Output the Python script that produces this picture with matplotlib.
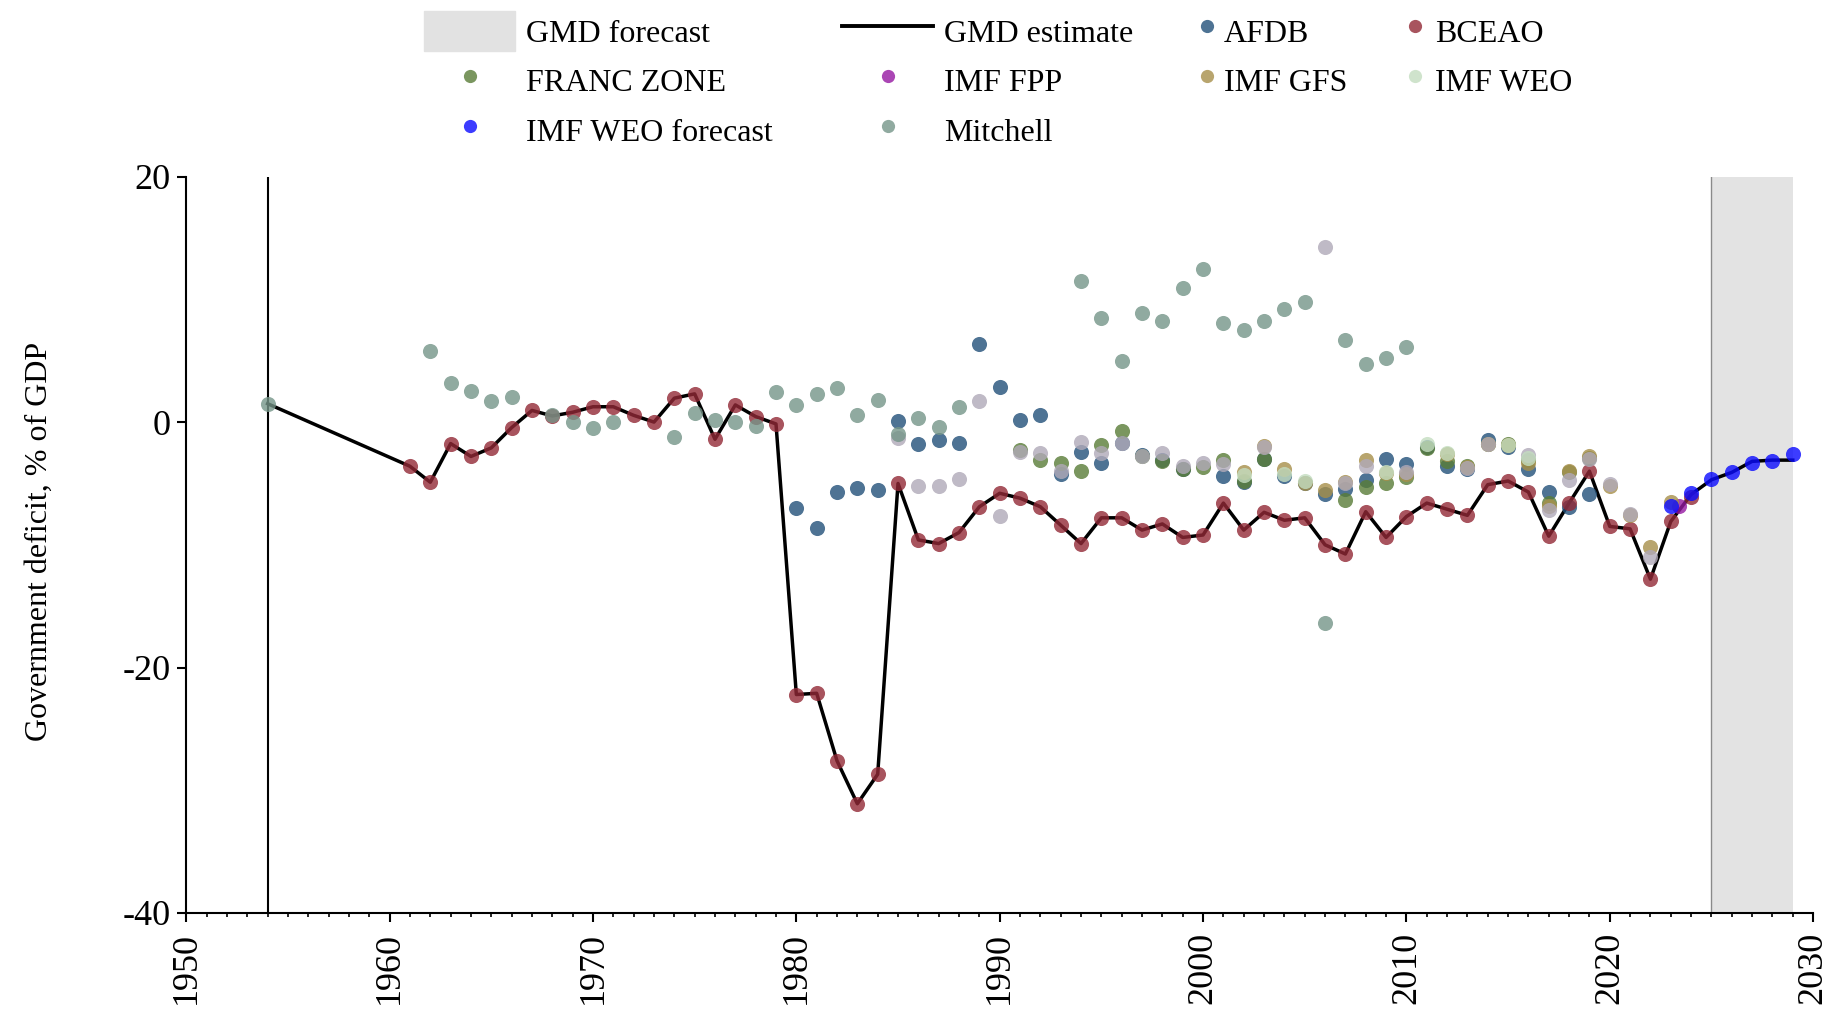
import matplotlib
matplotlib.use("Agg")
import matplotlib.pyplot as plt
from matplotlib.lines import Line2D
from matplotlib.patches import Patch
from matplotlib.ticker import MultipleLocator

plt.rcParams['font.family'] = ['Liberation Serif', 'DejaVu Serif']
plt.rcParams['axes.unicode_minus'] = False

# Government deficit, % of GDP
gmd_years = [1954] + list(range(1961, 2030))
gmd_values = [1.5,
              -3.6, -4.9, -1.75, -2.8, -2.1, -0.45, 0.95, 0.5, 0.8, 1.25,
              1.25, 0.55, 0.0, 1.95, 2.3, -1.4, 1.4, 0.45, -0.15, -22.2,
              -22.1, -27.6, -31.1, -28.7, -5.0, -9.6, -9.9, -9.0, -6.9, -5.8,
              -6.2, -6.9, -8.4, -9.9, -7.8, -7.8, -8.8, -8.3, -9.4, -9.2,
              -6.6, -8.8, -7.35, -8.0, -7.8, -10.0, -10.75, -7.3, -9.4, -7.7,
              -6.6, -7.1, -7.6, -5.1, -4.8, -5.7, -9.3, -6.6, -4.0, -8.5,
              -8.7, -12.8, -8.1, -5.9, -4.7, -4.1, -3.2, -3.1, -3.1]

bceao_years = list(range(1961, 2025))
bceao_values = [-3.6, -4.9, -1.75, -2.8, -2.1, -0.45, 0.95, 0.5, 0.8, 1.25,
                1.25, 0.55, 0.0, 1.95, 2.3, -1.4, 1.4, 0.45, -0.15, -22.2,
                -22.1, -27.6, -31.1, -28.7, -5.0, -9.6, -9.9, -9.0, -6.9, -5.8,
                -6.2, -6.9, -8.4, -9.9, -7.8, -7.8, -8.8, -8.3, -9.4, -9.2,
                -6.6, -8.8, -7.35, -8.0, -7.8, -10.0, -10.75, -7.3, -9.4, -7.7,
                -6.6, -7.1, -7.6, -5.1, -4.8, -5.7, -9.3, -6.6, -4.0, -8.5,
                -8.7, -12.8, -8.1, -6.1]

afdb_years = [1980, 1981, 1982, 1983, 1984, 1985, 1986, 1987, 1988, 1989,
              1990, 1991, 1992, 1993, 1994, 1995, 1996, 1997, 1998, 1999,
              2001, 2002, 2003, 2004, 2005, 2006, 2007, 2008, 2009, 2010,
              2011, 2012, 2013, 2014, 2015, 2016, 2017, 2018, 2019]
afdb_values = [-7.0, -8.65, -5.7, -5.4, -5.5, 0.05, -1.75, -1.45, -1.7, 6.4,
               2.9, 0.15, 0.6, -4.25, -2.4, -3.3, -1.7, -2.7, -3.1, -3.8,
               -4.4, -4.9, -3.0, -4.4, -5.0, -5.85, -5.45, -4.7, -3.0, -3.4,
               -2.0, -3.55, -3.8, -1.45, -2.05, -3.85, -5.7, -6.95, -5.9]

franc_years = [1991, 1992, 1993, 1994, 1995, 1996, 1997, 1998, 1999, 2000,
               2001, 2002, 2003, 2007, 2008, 2009, 2010, 2011, 2012, 2013,
               2014, 2015, 2016, 2017, 2018, 2019]
franc_values = [-2.25, -3.1, -3.3, -4.0, -1.9, -0.75, -2.75, -3.15, -3.8, -3.7,
                -3.05, -4.8, -3.0, -6.35, -5.25, -4.95, -4.5, -2.1, -3.15, -3.6,
                -1.8, -1.8, -3.05, -6.6, -4.1, -2.9]

fpp_years = [2023.4]
fpp_values = [-6.85]

gfs_years = [2002, 2003, 2004, 2005, 2006, 2007, 2008, 2009, 2010, 2012,
             2013, 2014, 2015, 2016, 2017, 2018, 2019, 2020, 2021, 2022, 2023]
gfs_values = [-4.1, -1.95, -3.85, -5.0, -5.5, -4.9, -3.1, -4.15, -4.2, -2.6,
              -3.7, -1.8, -1.9, -3.3, -6.8, -4.0, -2.8, -5.2, -7.6, -10.2, -6.5]

weo_years = [2002, 2004, 2005, 2009, 2011, 2012, 2015, 2016]
weo_values = [-4.3, -4.25, -4.8, -4.05, -1.8, -2.5, -1.85, -2.9]

other_years = [1985, 1986, 1987, 1988, 1989, 1990, 1991, 1992, 1993, 1994,
               1995, 1996, 1997, 1998, 1999, 2000, 2001, 2003, 2006, 2007,
               2008, 2010, 2013, 2014, 2016, 2017, 2018, 2019, 2020, 2021, 2022]
other_values = [-1.3, -5.2, -5.2, -4.6, 1.75, -7.65, -2.4, -2.55, -3.95, -1.65,
                -2.5, -1.7, -2.75, -2.55, -3.55, -3.35, -3.4, -2.0, 14.3, -5.0,
                -3.6, -4.05, -3.75, -1.75, -2.7, -7.2, -4.7, -3.0, -5.05, -7.5, -11.0]

forecast_years = [2023, 2024, 2025, 2026, 2027, 2028, 2029]
forecast_values = [-6.8, -5.8, -4.65, -4.1, -3.3, -3.15, -2.6]

mitchell_years = [1954, 1962, 1963, 1964, 1965, 1966, 1968, 1969, 1970, 1971,
                  1974, 1975, 1976, 1977, 1978, 1979, 1980, 1981, 1982, 1983,
                  1984, 1985, 1986, 1987, 1988, 1994, 1995, 1996, 1997, 1998,
                  1999, 2000, 2001, 2002, 2003, 2004, 2005, 2006, 2007, 2008,
                  2009, 2010]
mitchell_values = [1.5, 5.8, 3.15, 2.55, 1.7, 2.05, 0.6, 0.0, -0.45, 0.0,
                   -1.2, 0.7, 0.15, 0.0, -0.35, 2.45, 1.4, 2.3, 2.8, 0.6,
                   1.8, -1.0, 0.35, -0.4, 1.2, 11.5, 8.45, 5.0, 8.9, 8.2,
                   10.95, 12.45, 8.05, 7.5, 8.2, 9.2, 9.8, -16.4, 6.65, 4.7,
                   5.25, 6.15]

forecast_start, forecast_end = 2025, 2029
first_year = 1954

colors = {
    'AFDB': '#225079',
    'BCEAO': '#922936',
    'FRANC ZONE': '#597c37',
    'IMF FPP': '#9518a1',
    'IMF GFS': '#a78f4a',
    'IMF WEO': '#c4ddc0',
    'IMF WEO forecast': '#0b0bff',
    'Mitchell': '#759588',
    'other': '#b0a9b8',
}
ALPHA = 0.8
DOT = 118

fig = plt.figure(figsize=(18.37, 10.17), dpi=100)
ax = fig.add_axes([0.1014, 0.1023, 0.8856, 0.7240])

ax.axvspan(forecast_start, forecast_end, color='#e3e3e3', lw=0, zorder=0)
ax.axvline(forecast_start, color='#8a8a8a', lw=1, zorder=0.5)
ax.axvline(first_year, color='black', lw=1.5, zorder=1)

ax.plot(gmd_years, gmd_values, color='black', lw=2.5, zorder=2)

series = [
    ('AFDB', afdb_years, afdb_values),
    ('BCEAO', bceao_years, bceao_values),
    ('FRANC ZONE', franc_years, franc_values),
    ('IMF FPP', fpp_years, fpp_values),
    ('IMF GFS', gfs_years, gfs_values),
    ('other', other_years, other_values),
    ('IMF WEO', weo_years, weo_values),
    ('IMF WEO forecast', forecast_years, forecast_values),
    ('Mitchell', mitchell_years, mitchell_values),
]
for name, xs, ys in series:
    ax.scatter(xs, ys, s=DOT, color=colors[name], alpha=ALPHA, lw=0, zorder=3)

ax.set_xlim(1950, 2030)
ax.set_ylim(-40, 20)
ax.xaxis.set_major_locator(MultipleLocator(10))
ax.xaxis.set_minor_locator(MultipleLocator(1))
ax.yaxis.set_major_locator(MultipleLocator(20))
ax.tick_params(axis='both', which='major', length=6.5, width=1.5, labelsize=26)
ax.tick_params(axis='x', which='major', pad=7, labelrotation=90)
ax.tick_params(axis='y', which='major', pad=5)
ax.tick_params(axis='x', which='minor', length=3, width=1.2)
for side in ('top', 'right'):
    ax.spines[side].set_visible(False)
for side in ('left', 'bottom'):
    ax.spines[side].set_linewidth(1.5)

fig.text(39 / 1837, 0.468, 'Government deficit, % of GDP', rotation=90,
         ha='center', va='center', fontsize=23)


def dot(name):
    return Line2D([], [], ls='', marker='o', ms=9.5, mew=0,
                  color=colors[name], alpha=ALPHA)


def column_legend(handles, labels, left, hlen, pad):
    fig.legend(handles, labels, loc='upper left', bbox_to_anchor=(left, 0.989),
               frameon=False, fontsize=23, handlelength=hlen, handleheight=1.55,
               handletextpad=pad, labelspacing=0.3, borderpad=0, borderaxespad=0,
               numpoints=1)


column_legend([Patch(color='#e2e2e2'), dot('FRANC ZONE'), dot('IMF WEO forecast')],
              ['GMD forecast', 'FRANC ZONE', 'IMF WEO forecast'], 0.2308, 2.85, 0.35)
column_legend([Line2D([], [], color='black', lw=2.8), dot('IMF FPP'), dot('Mitchell')],
              ['GMD estimate', 'IMF FPP', 'Mitchell'], 0.4584, 2.85, 0.35)
column_legend([dot('AFDB'), dot('IMF GFS')],
              ['AFDB', 'IMF GFS'], 0.6535, 0.4, 0.33)
column_legend([dot('BCEAO'), dot('IMF WEO')],
              ['BCEAO', 'IMF WEO'], 0.7667, 0.4, 0.42)

fig.savefig('out.png', dpi=100)
